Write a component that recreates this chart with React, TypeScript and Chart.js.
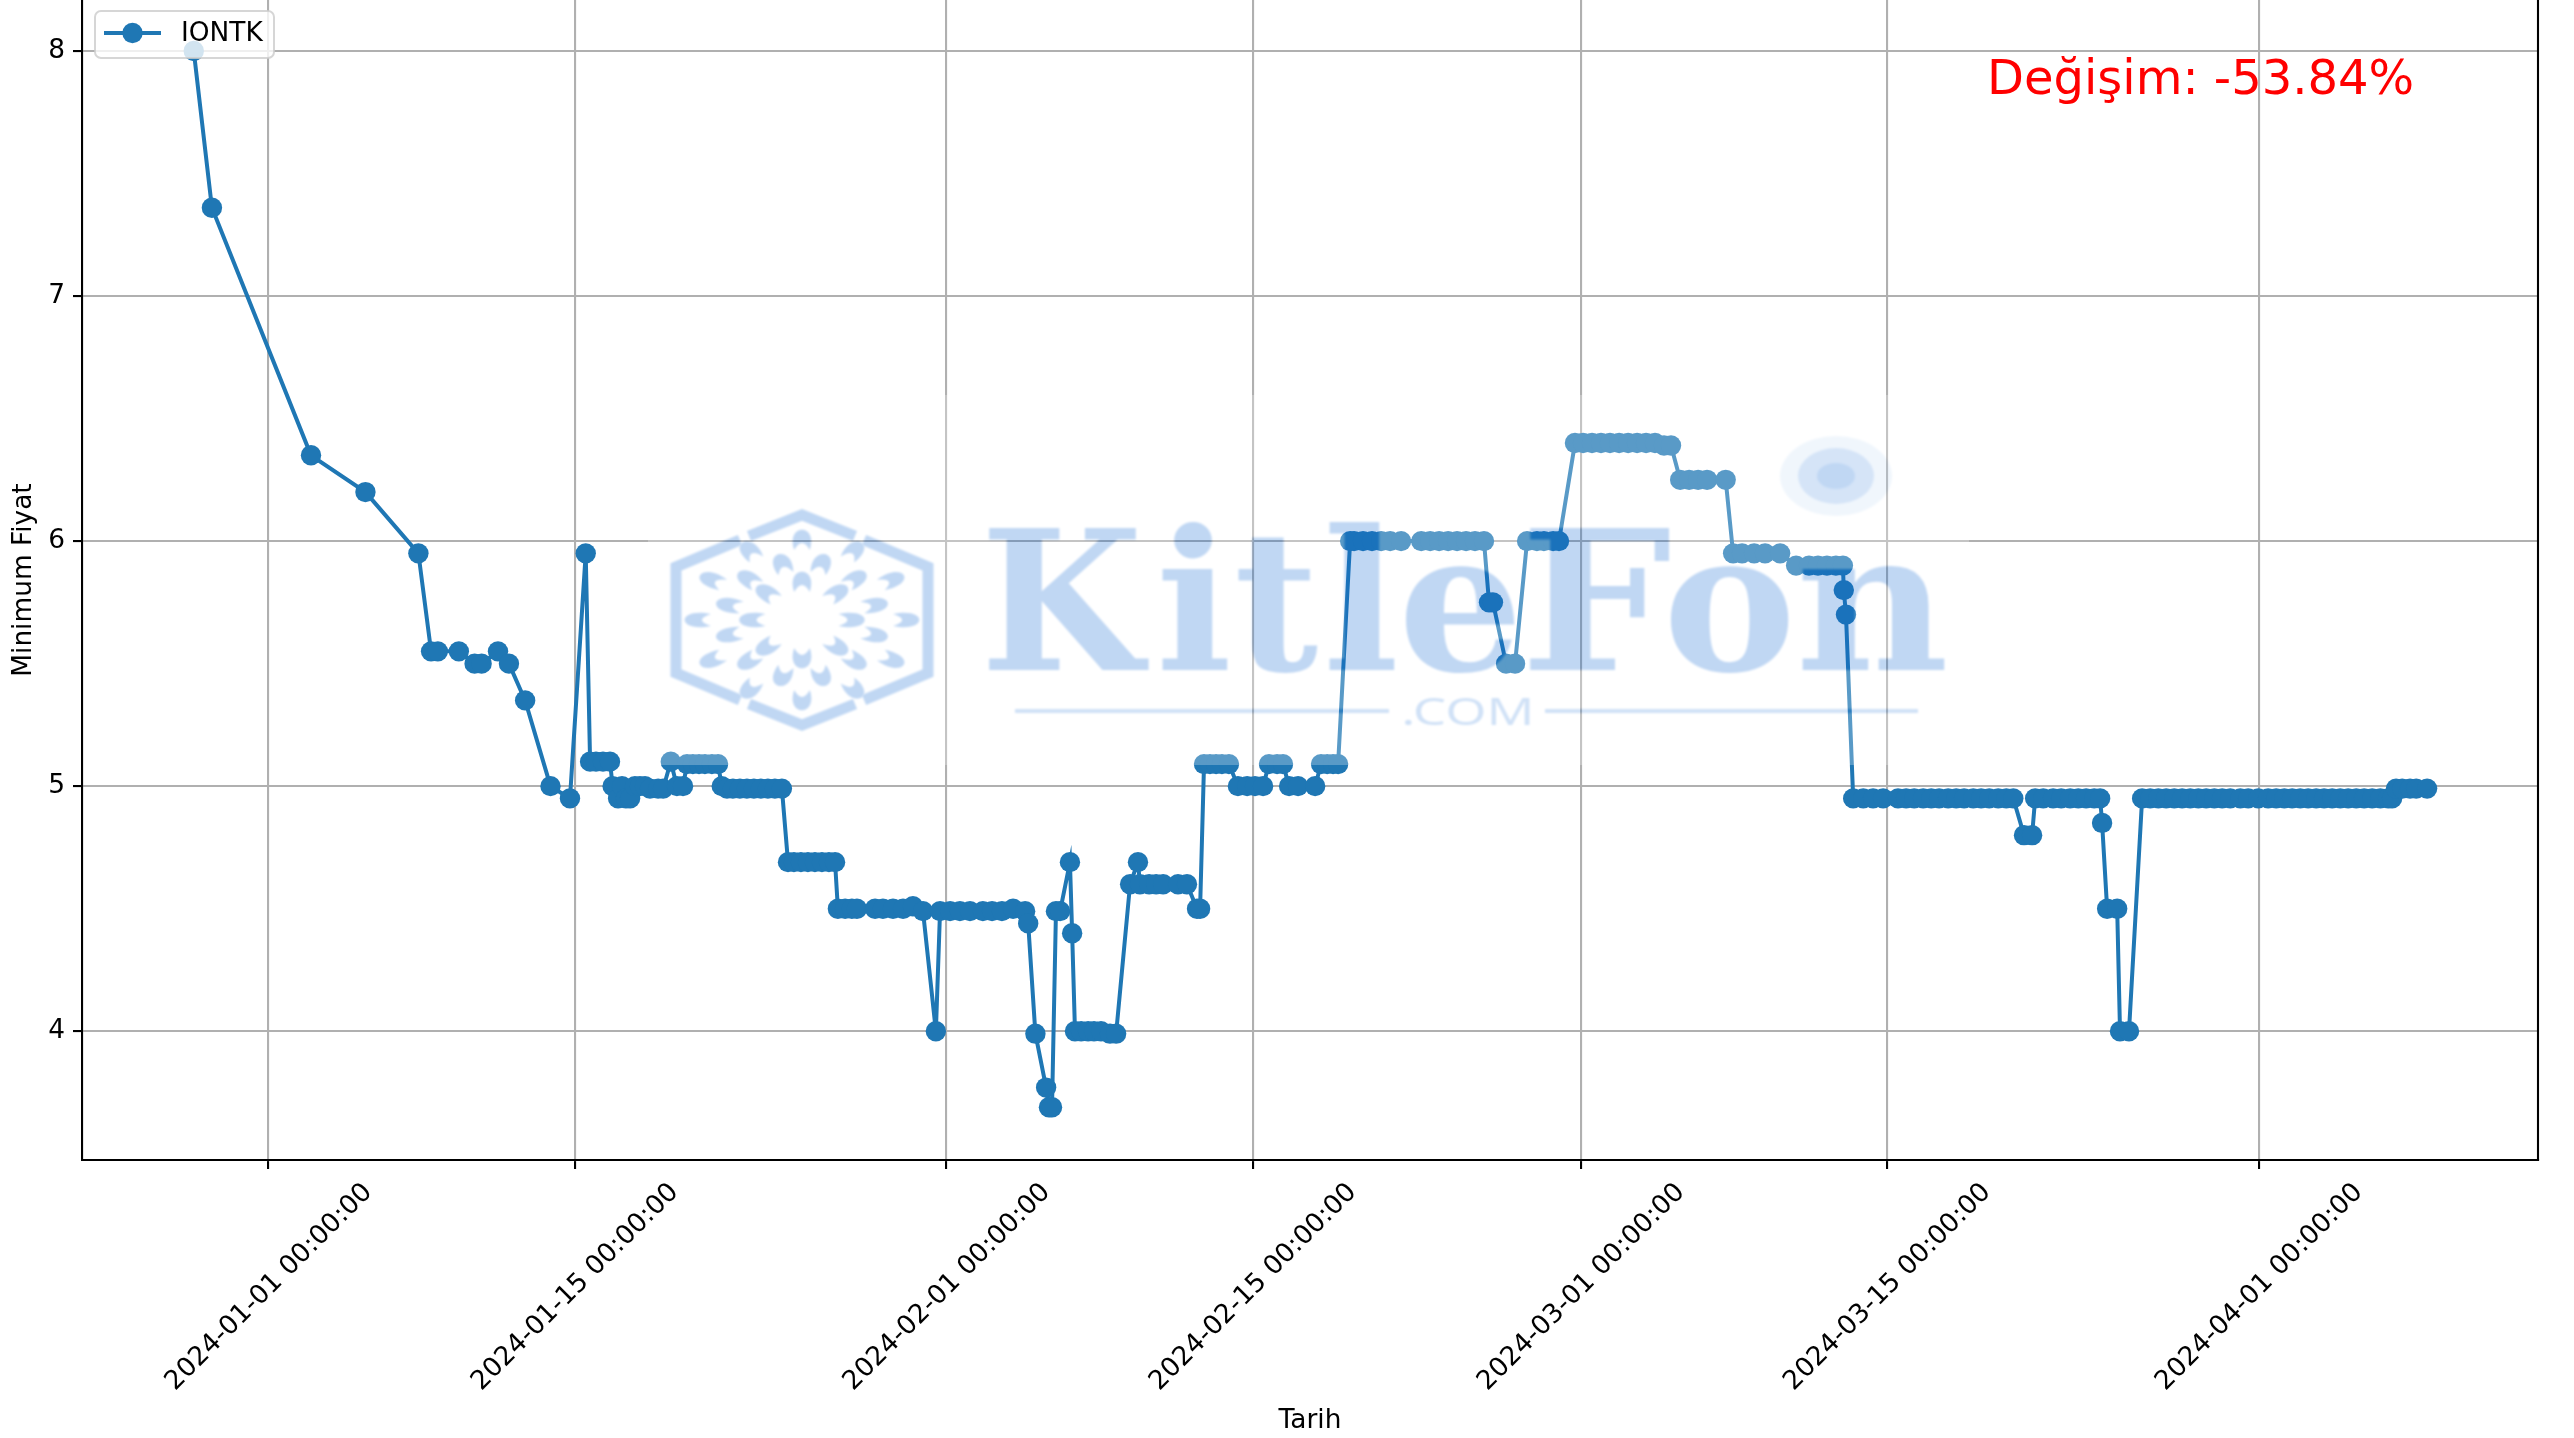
import React, { useEffect, useRef } from "react";
import { Chart, registerables } from "chart.js";

Chart.register(...registerables);

const seriesLabel = "IONTK";
const xTitle = "Tarih";
const yTitle = "Minimum Fiyat";
const changeText = "Değişim: -53.84%";
const yTickValues = [4, 5, 6, 7, 8];
const xTickDays = [0, 14, 31, 45, 60, 74, 91];
const xTickLabels = [
  "2024-01-01 00:00:00",
  "2024-01-15 00:00:00",
  "2024-02-01 00:00:00",
  "2024-02-15 00:00:00",
  "2024-03-01 00:00:00",
  "2024-03-15 00:00:00",
  "2024-04-01 00:00:00",
];

// Days since 2024-01-01
const days = [
  -3.41, -2.58, 1.95, 4.44, 6.86, 7.44, 7.75, 8.71, 9.43, 9.75, 10.5, 11.0, 11.74, 12.9, 13.79, 14.51,
  14.71, 14.98, 15.3, 15.62, 15.74, 15.99, 16.17, 16.35, 16.54, 16.76, 16.99, 17.22, 17.45, 17.82, 18.05,
  18.4, 18.68, 18.96, 19.14, 19.41, 19.69, 19.96, 20.28, 20.56, 20.73, 20.97, 21.24, 21.56, 21.88, 22.2,
  22.52, 22.84, 23.16, 23.48,
  23.76, 24.03, 24.35, 24.67, 24.99, 25.31, 25.63, 25.91,
  26.04, 26.37, 26.68, 26.91, 27.74, 28.1, 28.56, 29.02, 29.47, 29.93, 30.52, 30.71, 31.17, 31.62, 32.08,
  32.67, 33.09, 33.54, 34.05, 34.6, 34.74, 35.07, 35.56, 35.69, 35.83, 36.01, 36.2, 36.65, 36.75,
  36.88, 37.16, 37.48, 37.75, 38.07, 38.48, 38.76,
  39.4, 39.76, 39.85, 40.27, 40.59, 40.91, 41.59, 42.0, 42.46, 42.6,
  42.78, 43.05, 43.33, 43.6, 43.92, 44.33, 44.75, 45.11, 45.48, 45.75, 46.12, 46.39, 46.67, 47.08, 47.86,
  48.13, 48.41, 48.68, 48.91,
  49.46, 49.64, 50.05, 50.46, 50.88, 51.29, 51.79, 52.71, 53.12, 53.53, 53.94, 54.35, 54.76, 55.17, 55.58,
  55.81, 55.99, 56.59, 57.0, 57.55, 58.0, 58.32, 58.74, 59.01,
  59.74, 60.11, 60.52, 60.93, 61.34, 61.76, 62.17, 62.58, 62.99, 63.4, 63.81, 64.13,
  64.55, 64.96, 65.37, 65.78, 66.63, 66.97, 67.38, 67.93, 68.43, 69.12,
  69.85, 70.44, 70.85, 71.26, 71.67, 71.99, 72.03, 72.13,
  72.46, 72.92, 73.37, 73.83, 74.51, 74.88, 75.25, 75.66, 76.03, 76.39, 76.8, 77.17, 77.53, 77.95, 78.31,
  78.68, 79.09, 79.46, 79.78,
  80.27, 80.64,
  80.78, 81.15, 81.6, 81.97, 82.38, 82.75, 83.11, 83.48, 83.75,
  83.84, 84.07, 84.53, 84.66, 85.07,
  85.67, 86.04, 86.41, 86.77, 87.14, 87.5, 87.87, 88.24, 88.6, 88.97, 89.33, 89.7, 90.16, 90.52, 90.98,
  91.43, 91.8, 92.17, 92.53, 92.9, 93.26, 93.63, 93.99, 94.36, 94.73, 95.09, 95.46, 95.82, 96.19, 96.56,
  96.92, 97.1,
  97.28, 97.56, 97.92, 98.2, 98.7,
];

const prices = [
  8, 7.36, 6.35, 6.2, 5.95, 5.55, 5.55, 5.55, 5.5, 5.5, 5.55, 5.5, 5.35, 5.0, 4.95, 5.95,
  5.1, 5.1, 5.1, 5.1, 5.0, 4.95, 5.0, 4.95, 4.95, 5.0, 5.0, 5.0, 4.99, 4.99, 4.99,
  5.1, 5.0, 5.0, 5.09, 5.09, 5.09, 5.09, 5.09, 5.09, 5.0, 4.99, 4.99, 4.99, 4.99, 4.99,
  4.99, 4.99, 4.99, 4.99,
  4.69, 4.69, 4.69, 4.69, 4.69, 4.69, 4.69, 4.69,
  4.5, 4.5, 4.5, 4.5, 4.5, 4.5, 4.5, 4.5, 4.51, 4.49, 4.0, 4.49, 4.49, 4.49, 4.49,
  4.49, 4.49, 4.49, 4.5, 4.49, 4.44, 3.99, 3.77, 3.69, 3.69, 4.49, 4.49, 4.69, 4.4,
  4.0, 4.0, 4.0, 4.0, 4.0, 3.99, 3.99,
  4.6, 4.69, 4.6, 4.6, 4.6, 4.6, 4.6, 4.6, 4.5, 4.5,
  5.09, 5.09, 5.09, 5.09, 5.09, 5.0, 5.0, 5.0, 5.0, 5.09, 5.09, 5.09, 5.0, 5.0, 5.0,
  5.09, 5.09, 5.09, 5.09,
  6.0, 6.0, 6.0, 6.0, 6.0, 6.0, 6.0, 6.0, 6.0, 6.0, 6.0, 6.0, 6.0, 6.0, 6.0,
  5.75, 5.75, 5.5, 5.5, 6.0, 6.0, 6.0, 6.0, 6.0,
  6.4, 6.4, 6.4, 6.4, 6.4, 6.4, 6.4, 6.4, 6.4, 6.4, 6.39, 6.39,
  6.25, 6.25, 6.25, 6.25, 6.25, 5.95, 5.95, 5.95, 5.95, 5.95,
  5.9, 5.9, 5.9, 5.9, 5.9, 5.9, 5.8, 5.7,
  4.95, 4.95, 4.95, 4.95, 4.95, 4.95, 4.95, 4.95, 4.95, 4.95, 4.95, 4.95, 4.95, 4.95, 4.95,
  4.95, 4.95, 4.95, 4.95,
  4.8, 4.8,
  4.95, 4.95, 4.95, 4.95, 4.95, 4.95, 4.95, 4.95, 4.95,
  4.85, 4.5, 4.5, 4.0, 4.0,
  4.95, 4.95, 4.95, 4.95, 4.95, 4.95, 4.95, 4.95, 4.95, 4.95, 4.95, 4.95, 4.95, 4.95, 4.95,
  4.95, 4.95, 4.95, 4.95, 4.95, 4.95, 4.95, 4.95, 4.95, 4.95, 4.95, 4.95, 4.95, 4.95, 4.95,
  4.95, 4.95,
  4.99, 4.99, 4.99, 4.99, 4.99,
];

const WIDTH = 2574;
const HEIGHT = 1438;
const BLUE = "#1f77b4";
const FONT = '"DejaVu Sans"';
const MARK = "rgb(13,101,209)";
const FS = 26.4;

function fitGlyph(c: CanvasRenderingContext2D, s: string, x0: number, x1: number, base: number) {
  const m = c.measureText(s);
  const w = m.actualBoundingBoxLeft + m.actualBoundingBoxRight;
  c.save();
  c.translate(x0, base);
  c.scale((x1 - x0) / w, 1);
  c.fillText(s, m.actualBoundingBoxLeft, 0);
  c.restore();
}

function crescent(c: CanvasRenderingContext2D, cx: number, cy: number, r: number, deg: number) {
  const a = (deg * Math.PI) / 180;
  c.save();
  c.translate(cx, cy);
  c.scale(1.3, 1);
  c.translate(r * Math.sin(a), -r * Math.cos(a));
  c.rotate(a + Math.PI);
  c.beginPath();
  c.moveTo(-6, -12);
  c.bezierCurveTo(-13, 15, 13, 15, 6, -12);
  c.quadraticCurveTo(0, 2, -6, -12);
  c.closePath();
  c.fill();
  c.restore();
}

function makeWatermark() {
  const X = 648;
  const Y = 395;
  const W = 1321;
  const H = 370;
  const off = document.createElement("canvas");
  off.width = W;
  off.height = H;
  const c = off.getContext("2d") as CanvasRenderingContext2D;
  c.fillStyle = "#fff";
  c.fillRect(0, 0, W, H);
  c.translate(-X, -Y);
  c.filter = "blur(1.2px)";

  // halo
  c.fillStyle = "rgb(197,220,243)";
  c.beginPath();
  c.ellipse(1836, 476, 56, 40, 0, 0, Math.PI * 2);
  c.fill();
  c.fillStyle = "rgb(93,151,224)";
  c.beginPath();
  c.ellipse(1836, 476, 38, 28, 0, 0, Math.PI * 2);
  c.fill();
  c.fillStyle = MARK;
  c.beginPath();
  c.ellipse(1836, 476, 19, 13, 0, 0, Math.PI * 2);
  c.fill();

  // wordmark
  c.fillStyle = MARK;
  c.font = 'bold 195px "DejaVu Serif"';
  c.textBaseline = "alphabetic";
  c.textAlign = "left";
  const boxes: [string, number, number][] = [
    ["K", 989, 1149],
    ["i", 1162, 1228],
    ["t", 1238, 1318],
    ["l", 1329, 1395],
    ["e", 1406, 1515],
    ["F", 1530, 1669],
    ["o", 1671, 1789],
    ["n", 1802, 1945],
  ];
  boxes.forEach(([s, a, b]) => fitGlyph(c, s, a, b, 670));

  // .COM and rules
  c.globalAlpha = 0.75;
  c.font = '39px "Noto Sans"';
  fitGlyph(c, ".COM", 1404, 1530, 725);
  c.fillRect(1015, 709, 374, 4);
  c.fillRect(1545, 709, 373, 4);
  c.globalAlpha = 1;

  // hexagon emblem
  const cx = 802;
  const cy = 620;
  c.strokeStyle = MARK;
  c.lineWidth = 11;
  c.lineJoin = "miter";
  const paths = [
    [[-53, -84], [0, -105], [53, -84]],
    [[62, -80], [126, -53], [126, 53], [62, 80]],
    [[53, 84], [0, 105], [-53, 84]],
    [[-62, 80], [-126, 53], [-126, -53], [-62, -80]],
  ];
  paths.forEach((p) => {
    c.beginPath();
    p.forEach(([x, y], i) => (i ? c.lineTo(cx + x, cy + y) : c.moveTo(cx + x, cy + y)));
    c.stroke();
  });
  for (let d = 0; d < 360; d += 30) crescent(c, cx, cy, 82, d);
  for (let d = 15; d < 360; d += 30) crescent(c, cx, cy, 60, d);
  for (let d = 0; d < 360; d += 45) crescent(c, cx, cy, 40, d);
  return { off, X, Y };
}

const overlayPlugin = {
  id: "overlay",
  beforeDatasetsDraw(chart: any) {
    const { ctx, chartArea } = chart;
    ctx.save();
    ctx.strokeStyle = "#000";
    ctx.lineWidth = 2.1;
    ctx.beginPath();
    ctx.moveTo(chartArea.right, chartArea.top);
    ctx.lineTo(chartArea.right, chartArea.bottom);
    ctx.stroke();
    ctx.restore();
  },
  afterDatasetsDraw(chart: any) {
    const { ctx } = chart;
    const wm = makeWatermark();
    ctx.save();
    ctx.globalAlpha = 0.26;
    ctx.drawImage(wm.off, wm.X, wm.Y);
    ctx.restore();

    // annotation
    ctx.save();
    ctx.fillStyle = "#ff0000";
    ctx.font = `48px ${FONT}`;
    ctx.textAlign = "left";
    ctx.textBaseline = "alphabetic";
    ctx.fillText(changeText, 1987, 94);
    ctx.restore();

    // legend
    const ds = chart.data.datasets[0];
    ctx.save();
    ctx.beginPath();
    ctx.roundRect(95, 11, 179, 47, 6);
    ctx.fillStyle = "rgba(255,255,255,0.8)";
    ctx.fill();
    ctx.strokeStyle = "rgba(204,204,204,0.8)";
    ctx.lineWidth = 2;
    ctx.stroke();
    ctx.strokeStyle = ds.borderColor;
    ctx.lineWidth = ds.borderWidth;
    ctx.beginPath();
    ctx.moveTo(104, 33);
    ctx.lineTo(161, 33);
    ctx.stroke();
    ctx.fillStyle = ds.pointBackgroundColor;
    ctx.beginPath();
    ctx.arc(132.5, 33, ds.pointRadius, 0, Math.PI * 2);
    ctx.fill();
    ctx.fillStyle = "#000";
    ctx.font = `${FS}px ${FONT}`;
    ctx.textAlign = "left";
    ctx.textBaseline = "middle";
    ctx.fillText(ds.label, 181, 34);
    ctx.restore();
  },
};

export default function App() {
  const ref = useRef<HTMLCanvasElement>(null);
  useEffect(() => {
    if (!ref.current) return;
    const chart = new Chart(ref.current, {
      type: "line",
      data: {
        datasets: [
          {
            label: seriesLabel,
            data: days.map((d, i) => ({ x: d, y: prices[i] })),
            borderColor: BLUE,
            backgroundColor: BLUE,
            pointBackgroundColor: BLUE,
            borderWidth: 4,
            pointRadius: 10.2,
            pointBorderWidth: 0,
            tension: 0,
            fill: false,
            clip: false,
          },
        ],
      },
      options: {
        responsive: false,
        animation: false,
        devicePixelRatio: 1,
        layout: { autoPadding: false, padding: { left: 0, top: 0, right: 36, bottom: 0 } },
        plugins: { legend: { display: false }, tooltip: { enabled: false } },
        scales: {
          x: {
            type: "linear",
            min: -8.52,
            max: 103.77,
            afterFit: (s: any) => {
              s.height = 278;
              s.paddingLeft = 0;
              s.paddingRight = 0;
            },
            afterBuildTicks: (s: any) => {
              s.ticks = xTickDays.map((v) => ({ value: v }));
            },
            grid: { color: "#b0b0b0", lineWidth: 2.1, tickColor: "#000", tickWidth: 2.1, tickLength: 9 },
            border: { color: "#000", width: 2.1 },
            ticks: {
              autoSkip: false,
              minRotation: 45,
              maxRotation: 45,
              labelOffset: 100,
              padding: 8,
              color: "#000",
              font: { family: FONT, size: FS },
              callback: (_v: any, i: number) => xTickLabels[i],
            },
            title: {
              display: true,
              text: xTitle,
              color: "#000",
              font: { family: FONT, size: FS },
              padding: { top: 1, bottom: 1 },
            },
          },
          y: {
            min: 3.4745,
            max: 8.208,
            afterFit: (s: any) => {
              s.width = 82;
              s.paddingTop = 0;
              s.paddingBottom = 0;
            },
            afterBuildTicks: (s: any) => {
              s.ticks = yTickValues.map((v) => ({ value: v }));
            },
            grid: { color: "#b0b0b0", lineWidth: 2.1, tickColor: "#000", tickWidth: 2.1, tickLength: 9 },
            border: { color: "#000", width: 2.1 },
            ticks: {
              padding: 8,
              color: "#000",
              font: { family: FONT, size: FS },
              callback: (v: any) => String(v),
            },
            title: {
              display: true,
              text: yTitle,
              color: "#000",
              font: { family: FONT, size: FS },
              padding: { top: 8, bottom: 8 },
            },
          },
        },
      },
      plugins: [overlayPlugin],
    } as any);
    return () => chart.destroy();
  }, []);
  return (
    <canvas
      ref={ref}
      width={WIDTH}
      height={HEIGHT}
      style={{ position: "absolute", left: 0, top: 0, display: "block" }}
    />
  );
}
